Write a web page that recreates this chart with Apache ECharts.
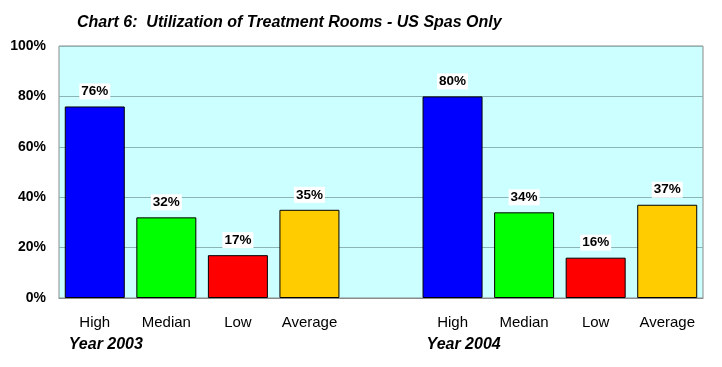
<!DOCTYPE html>
<html><head><meta charset="utf-8">
<script src="https://cdn.jsdelivr.net/npm/echarts@6/dist/echarts.min.js"></script>
<style>html,body{margin:0;padding:0;background:#fff}#c{width:722px;height:367px}</style>
</head><body><div id="c"></div>
<script>
const categories = ['High','Median','Low','Average','','High','Median','Low','Average'];
const values = [76, 32, 17, 35, null, 80, 34, 16, 37];
const barColors = ['#0000FF','#00FF00','#FF0000','#FFCC00','#FFFFFF','#0000FF','#00FF00','#FF0000','#FFCC00'];
const yTicks = [0, 20, 40, 60, 80, 100];
const yearLabels = ['Year 2003', 'Year 2004'];
const titleText = 'Chart 6:  Utilization of Treatment Rooms - US Spas Only';

const chart = echarts.init(document.getElementById('c'));
const font = 'Arial, "Liberation Sans", sans-serif';
chart.setOption({
  animation: false,
  title: {text: titleText, left: 72, top: 10,
    textStyle: {fontFamily: font, fontSize: 16, fontWeight: 'bold', fontStyle: 'italic', color: '#000'}},
  grid: {left: 59, right: 19, top: 46, bottom: 69, show: true, backgroundColor: '#CCFFFF', borderColor: '#8A8A8A', borderWidth: 1},
  xAxis: {type: 'category', data: categories,
    axisLine: {show: true, lineStyle: {color: '#8A8A8A'}}, axisTick: {show: false},
    axisLabel: {margin: 17, fontFamily: font, fontSize: 15, color: '#000', interval: 0}},
  yAxis: {type: 'value', min: yTicks[0], max: yTicks[yTicks.length-1], interval: 20,
    axisLine: {show: false}, axisTick: {show: false},
    axisLabel: {margin: 13, formatter: '{value}%', fontFamily: font, fontSize: 14, fontWeight: 'bold', color: '#000'},
    splitLine: {lineStyle: {color: '#8CB4B4', width: 1}}},
  series: [{type: 'bar', barWidth: 60,
    data: values.map((v, i) => ({value: v, itemStyle: {color: barColors[i]}})),
    itemStyle: {borderColor: '#000', borderWidth: 1},
    label: {show: true, position: 'top', distance: 7, formatter: p => p.value + '%',
      fontFamily: font, fontSize: 13.5, fontWeight: 'bold', color: '#000', backgroundColor: '#fff', padding: [1, 2, 1, 2]}}]
});
const p0 = chart.convertToPixel({xAxisIndex: 0}, 0);
const p5 = chart.convertToPixel({xAxisIndex: 0}, 5);
chart.setOption({graphic: yearLabels.map((t, i) => ({type: 'text', left: (i ? p5 : p0) - 26, top: 337,
  style: {text: t, font: 'italic bold 16px ' + font, fill: '#000'}}))});
</script></body></html>
